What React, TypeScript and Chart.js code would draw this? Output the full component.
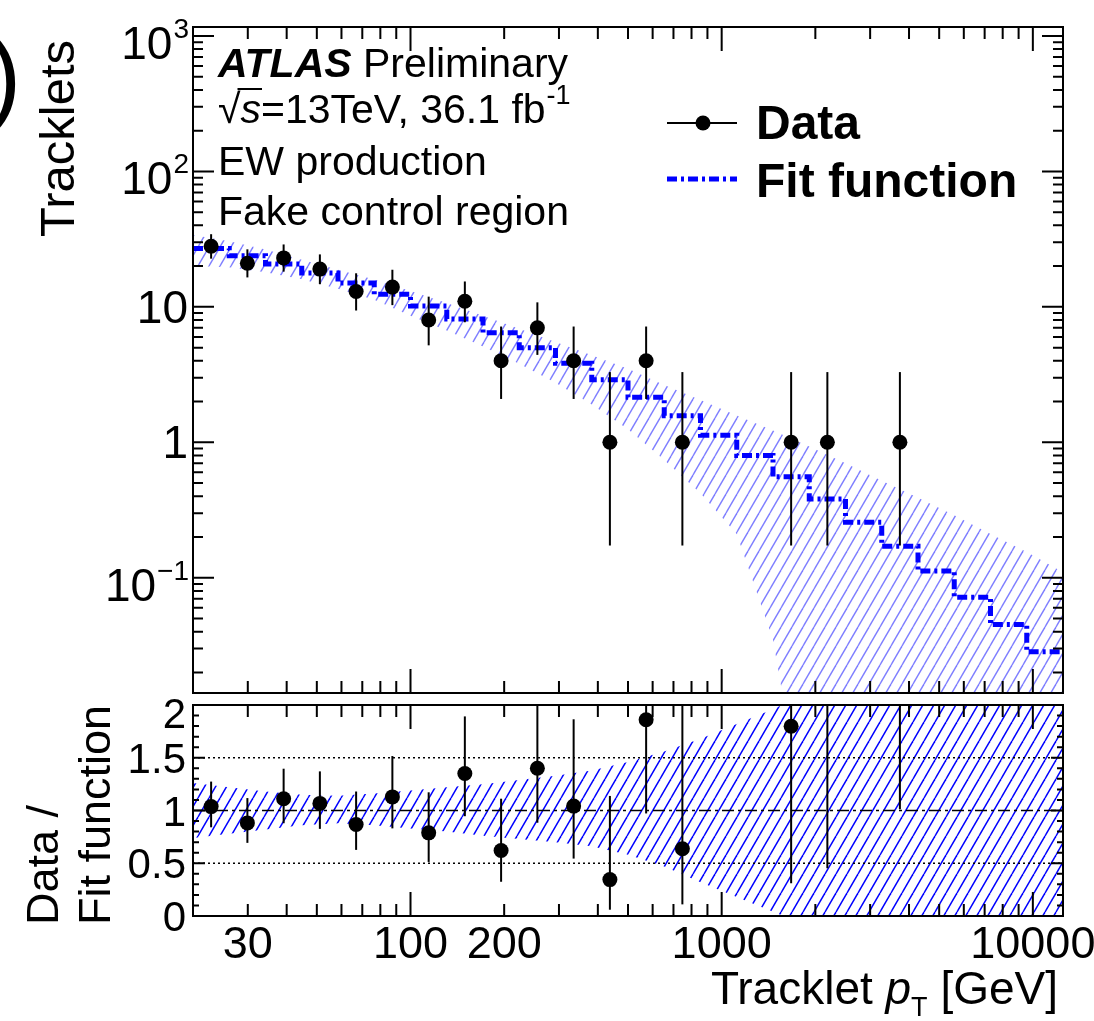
import React, { useEffect, useRef } from "react";
import { Chart, registerables } from "chart.js";

Chart.register(...registerables);

const W = 1094;
const H = 1021;
const FONT = '"Liberation Sans", Helvetica, Arial, sans-serif';

// ---------- data (GeV binning, log-spaced) ----------
const binEdges = [20, 26.15, 34.2, 44.72, 58.48, 76.47, 100, 130.8, 171.0, 223.6, 292.4, 382.4, 500, 653.8, 855.0, 1118, 1462, 1912, 2500, 3269, 4275, 5590, 7310, 9559, 12500];
const binCenters = [22.87, 29.91, 39.11, 51.14, 66.87, 87.45, 114.4, 149.5, 195.5, 255.7, 334.4, 437.3, 571.8, 747.7, 977.8, 1279, 1672, 2186, 2859, 3739, 4889, 6393, 8360, 10930];
const dataCounts = [28, 21, 23, 19, 13, 14, 8, 11, 4, 7, 4, 1, 4, 1, 0, 0, 1, 1, 0, 1, 0, 0, 0, 0];
const dataErrLow = [22.7, 16.5, 18.2, 14.7, 9.4, 10.3, 5.2, 7.7, 2.09, 4.42, 2.09, 0.173, 2.09, 0.173, 0, 0, 0.173, 0.173, 0, 0.173, 0, 0, 0, 0];
const dataErrHigh = [34.4, 26.6, 28.9, 24.4, 17.7, 18.8, 11.9, 15.4, 7.16, 10.8, 7.16, 3.3, 7.16, 3.3, 0, 0, 3.3, 3.3, 0, 3.3, 0, 0, 0, 0];
const fitValues = [27.0, 23.8, 20.7, 17.8, 15.0, 12.4, 10.15, 8.14, 6.44, 5.0, 3.84, 2.9, 2.15, 1.57, 1.13, 0.8, 0.556, 0.382, 0.257, 0.171, 0.112, 0.0718, 0.0451, 0.0284];
// fit uncertainty band, at bin edges
const fitBandUp = [34, 30.5, 26.5, 22.3, 18.8, 15.9, 13.1, 10.7, 8.6, 6.9, 5.5, 4.4, 3.5, 2.65, 2.05, 1.58, 1.22, 0.93, 0.7, 0.52, 0.39, 0.29, 0.21, 0.155, 0.11];
const fitBandLow = [20, 19.6, 18.0, 16.0, 13.6, 11.3, 8.6, 6.7, 5.1, 3.8, 2.75, 1.9, 1.25, 0.74, 0.42, 0.21, 0.035, 0.001, 0.001, 0.001, 0.001, 0.001, 0.001, 0.001, 0.001];
const ratioBandUp = [1.26, 1.22, 1.18, 1.15, 1.14, 1.16, 1.19, 1.22, 1.25, 1.29, 1.33, 1.38, 1.46, 1.56, 1.68, 1.82, 1.96, 2.12, 2.3, 2.5, 2.7, 2.9, 3.1, 3.3, 3.5];
const ratioBandLow = [0.74, 0.78, 0.82, 0.86, 0.88, 0.86, 0.83, 0.8, 0.76, 0.73, 0.7, 0.66, 0.58, 0.47, 0.32, 0.18, 0.04, -0.1, -0.3, -0.5, -0.7, -0.9, -1.1, -1.3, -1.5];

// ---------- axes / labels ----------
const xRange = [20, 12500];
const topYRange = [0.0141, 1165];
const ratioYRange = [0, 2];
const xTickLabels = [30, 100, 200, 1000, 10000];
const topYTickValues = [1000, 100, 10, 1, 0.1];
const topYTickBase = ["10", "10", "10", "1", "10"];
const topYTickExp = ["3", "2", "", "", "\u22121"];
const ratioYTickValues = [2, 1.5, 1, 0.5, 0];
const ratioYTickLabels = ["2", "1.5", "1", "0.5", "0"];
const ratioDottedLines = [0.5, 1.5];
const ratioCentralLine = 1;

const TOP_AREA = { left: 193, right: 1063, top: 27, bottom: 693 };
const BOT_AREA = { left: 193, right: 1063, top: 705, bottom: 916 };

function f(size: number, weight = "normal", style = "normal") {
  return `${style} ${weight} ${size}px ${FONT}`;
}

function makeHatch(ctx: CanvasRenderingContext2D, color: string, lw: number) {
  const w = 11, h = 19;
  const c = document.createElement("canvas");
  c.width = w;
  c.height = h;
  const g = c.getContext("2d")!;
  g.strokeStyle = color;
  g.lineWidth = lw;
  for (const dx of [-w, 0, w]) {
    g.beginPath();
    g.moveTo(dx, h);
    g.lineTo(dx + w, 0);
    g.stroke();
  }
  return ctx.createPattern(c, "repeat");
}

function drawBars(chart: any, bars: { x: number; lo: number; hi: number }[]) {
  const { ctx, chartArea: a, scales } = chart;
  ctx.save();
  ctx.beginPath();
  ctx.rect(a.left, a.top, a.right - a.left, a.bottom - a.top);
  ctx.clip();
  ctx.strokeStyle = "#000";
  ctx.lineWidth = 2;
  for (const b of bars) {
    const px = scales.x.getPixelForValue(b.x);
    ctx.beginPath();
    ctx.moveTo(px, scales.y.getPixelForValue(b.lo));
    ctx.lineTo(px, scales.y.getPixelForValue(b.hi));
    ctx.stroke();
  }
  ctx.restore();
}

function drawFrameAndXTicks(chart: any, major: number, minor: number) {
  const { ctx, chartArea: a, scales } = chart;
  const sx = scales.x;
  ctx.save();
  ctx.strokeStyle = "#000";
  ctx.lineWidth = 2;
  ctx.beginPath();
  for (let d = 1; d <= 4; d++) {
    for (let m = 1; m <= 9; m++) {
      const v = m * Math.pow(10, d);
      if (v < sx.min * 0.999 || v > sx.max * 1.001) continue;
      const px = sx.getPixelForValue(v);
      const len = m === 1 ? major : minor;
      ctx.moveTo(px, a.bottom);
      ctx.lineTo(px, a.bottom - len);
      ctx.moveTo(px, a.top);
      ctx.lineTo(px, a.top + len);
    }
  }
  ctx.stroke();
  ctx.strokeRect(a.left, a.top, a.right - a.left, a.bottom - a.top);
  ctx.restore();
}

export default function App() {
  const topRef = useRef<HTMLCanvasElement>(null);
  const botRef = useRef<HTMLCanvasElement>(null);

  useEffect(() => {
    const topCtx = topRef.current!.getContext("2d")!;
    const botCtx = botRef.current!.getContext("2d")!;

    const dataPts: { x: number; y: number }[] = [];
    const dataBars: { x: number; lo: number; hi: number }[] = [];
    const ratioPts: { x: number; y: number }[] = [];
    const ratioBars: { x: number; lo: number; hi: number }[] = [];
    dataCounts.forEach((n, i) => {
      if (n <= 0) return;
      dataPts.push({ x: binCenters[i], y: n });
      dataBars.push({ x: binCenters[i], lo: dataErrLow[i], hi: dataErrHigh[i] });
      ratioPts.push({ x: binCenters[i], y: n / fitValues[i] });
      ratioBars.push({ x: binCenters[i], lo: dataErrLow[i] / fitValues[i], hi: dataErrHigh[i] / fitValues[i] });
    });
    const stepPts = binEdges.map((e, i) => ({ x: e, y: fitValues[Math.min(i, fitValues.length - 1)] }));
    const upPts = fitBandUp.map((v, i) => ({ x: binEdges[i], y: v }));
    const lowPts = fitBandLow.map((v, i) => ({ x: binEdges[i], y: v }));
    const rUpPts = ratioBandUp.map((v, i) => ({ x: binEdges[i], y: v }));
    const rLowPts = ratioBandLow.map((v, i) => ({ x: binEdges[i], y: v }));

    const topPlugin = {
      id: "topDecor",
      beforeDatasetDraw(chart: any, args: any) {
        if (chart.data.datasets[args.index].label === "Data") drawBars(chart, dataBars);
      },
      afterDraw(chart: any) {
        const { ctx, chartArea: a, scales } = chart;
        const sy = scales.y;
        drawFrameAndXTicks(chart, 24, 12);
        ctx.save();
        ctx.strokeStyle = "#000";
        ctx.lineWidth = 2;
        ctx.beginPath();
        for (let d = -2; d <= 3; d++) {
          for (let m = 1; m <= 9; m++) {
            const v = m * Math.pow(10, d);
            if (v < sy.min * 0.999 || v > sy.max * 1.001) continue;
            const py = sy.getPixelForValue(v);
            const len = m === 1 ? 21 : 10;
            ctx.moveTo(a.left, py);
            ctx.lineTo(a.left + len, py);
            ctx.moveTo(a.right, py);
            ctx.lineTo(a.right - len, py);
          }
        }
        ctx.stroke();

        // y tick labels
        ctx.fillStyle = "#000";
        ctx.textBaseline = "alphabetic";
        ctx.textAlign = "left";
        topYTickValues.forEach((v, i) => {
          const py = sy.getPixelForValue(v);
          const base = topYTickBase[i];
          const exp = topYTickExp[i];
          ctx.font = f(46);
          const bw = ctx.measureText(base).width;
          ctx.font = f(28);
          const ew = exp ? ctx.measureText(exp).width : 0;
          const x0 = 188 - bw - ew;
          const by = py + 16 + (exp ? 7 : 0);
          ctx.font = f(46);
          ctx.fillText(base, x0, by);
          if (exp) {
            ctx.font = f(28);
            ctx.fillText(exp, x0 + bw + 1, by - 21);
          }
        });

        // y title
        ctx.save();
        ctx.translate(74, 40);
        ctx.rotate(-Math.PI / 2);
        ctx.textAlign = "right";
        ctx.font = f(49);
        ctx.fillText("Tracklets", 0, 0);
        ctx.restore();

        // cut-off panel label
        ctx.font = f(100);
        ctx.fillText(")", -12, 110);

        // ATLAS text
        let x = 218;
        ctx.font = f(41, "bold", "italic");
        ctx.fillText("ATLAS", x, 77);
        x += ctx.measureText("ATLAS").width;
        ctx.font = f(41);
        ctx.fillText(" Preliminary", x, 77);

        x = 218;
        const y1 = 123;
        ctx.font = f(41);
        ctx.fillText("\u221A", x, y1);
        x += ctx.measureText("\u221A").width;
        ctx.font = f(41, "normal", "italic");
        const sw = ctx.measureText("s").width;
        ctx.fillText("s", x, y1);
        ctx.lineWidth = 2;
        ctx.beginPath();
        ctx.moveTo(x - 3, y1 - 34);
        ctx.lineTo(x + sw + 1, y1 - 34);
        ctx.stroke();
        x += sw;
        ctx.font = f(41);
        const rest = "=13TeV, 36.1 fb";
        ctx.fillText(rest, x, y1);
        x += ctx.measureText(rest).width;
        ctx.font = f(27);
        ctx.fillText("-1", x + 1, y1 - 19);

        ctx.font = f(41);
        ctx.fillText("EW production", 218, 175);
        ctx.fillText("Fake control region", 218, 225);

        // legend
        ctx.lineWidth = 2;
        ctx.strokeStyle = "#000";
        ctx.beginPath();
        ctx.moveTo(667, 123);
        ctx.lineTo(737, 123);
        ctx.stroke();
        ctx.beginPath();
        ctx.arc(703, 123, 7.5, 0, Math.PI * 2);
        ctx.fill();
        ctx.strokeStyle = "#0000ff";
        ctx.lineWidth = 5;
        ctx.setLineDash([10, 4, 3, 4]);
        ctx.beginPath();
        ctx.moveTo(667, 179);
        ctx.lineTo(737, 179);
        ctx.stroke();
        ctx.setLineDash([]);
        ctx.fillStyle = "#000";
        ctx.font = f(48, "bold");
        ctx.fillText("Data", 756, 139);
        ctx.fillText("Fit function", 756, 197);
        ctx.restore();
      },
    };

    const botPlugin = {
      id: "botDecor",
      beforeDatasetDraw(chart: any, args: any) {
        if (chart.data.datasets[args.index].label !== "Data") return;
        const { ctx, chartArea: a, scales } = chart;
        ctx.save();
        ctx.strokeStyle = "#000";
        ctx.lineWidth = 1.5;
        ctx.setLineDash([2, 3]);
        for (const v of ratioDottedLines) {
          const py = scales.y.getPixelForValue(v);
          ctx.beginPath();
          ctx.moveTo(a.left, py);
          ctx.lineTo(a.right, py);
          ctx.stroke();
        }
        ctx.setLineDash([12, 4, 3, 4]);
        const pc = scales.y.getPixelForValue(ratioCentralLine);
        ctx.beginPath();
        ctx.moveTo(a.left, pc);
        ctx.lineTo(a.right, pc);
        ctx.stroke();
        ctx.restore();
        drawBars(chart, ratioBars);
      },
      afterDraw(chart: any) {
        const { ctx, chartArea: a, scales } = chart;
        const sy = scales.y;
        const sx = scales.x;
        drawFrameAndXTicks(chart, 24, 12);
        ctx.save();
        ctx.strokeStyle = "#000";
        ctx.lineWidth = 2;
        ctx.beginPath();
        for (let k = 0; k <= 20; k++) {
          const v = k * 0.1;
          const py = sy.getPixelForValue(v);
          const len = k % 5 === 0 ? 12 : 6;
          ctx.moveTo(a.left, py);
          ctx.lineTo(a.left + len, py);
          ctx.moveTo(a.right, py);
          ctx.lineTo(a.right - len, py);
        }
        ctx.stroke();

        ctx.fillStyle = "#000";
        ctx.font = f(42);
        ctx.textAlign = "right";
        ratioYTickValues.forEach((v, i) => {
          let py = sy.getPixelForValue(v) + 15;
          if (v === ratioYRange[1]) py += 8;
          ctx.fillText(ratioYTickLabels[i], 186, py);
        });

        ctx.textAlign = "center";
        ctx.font = f(45);
        xTickLabels.forEach((v) => {
          ctx.fillText(String(v), sx.getPixelForValue(v), 958);
        });

        // x title: Tracklet p_T [GeV]
        ctx.textAlign = "left";
        const parts = [
          { t: "Tracklet ", font: f(46), dy: 0 },
          { t: "p", font: f(46, "normal", "italic"), dy: 0 },
          { t: "T", font: f(27), dy: 12 },
          { t: " [GeV]", font: f(46), dy: 0 },
        ];
        let total = 0;
        for (const p of parts) {
          ctx.font = p.font;
          total += ctx.measureText(p.t).width;
        }
        let x = 1058 - total;
        for (const p of parts) {
          ctx.font = p.font;
          ctx.fillText(p.t, x, 1004 + p.dy);
          x += ctx.measureText(p.t).width;
        }

        // ratio y title
        ctx.save();
        ctx.translate(58, 925);
        ctx.rotate(-Math.PI / 2);
        ctx.textAlign = "left";
        ctx.font = f(45);
        ctx.fillText("Data /", 0, 0);
        ctx.restore();
        ctx.save();
        ctx.translate(110, 925);
        ctx.rotate(-Math.PI / 2);
        ctx.textAlign = "left";
        ctx.font = f(45);
        ctx.fillText("Fit function", 0, 0);
        ctx.restore();
        ctx.restore();
      },
    };

    const commonOpts = (area: any, yType: string, yRange: number[]) => ({
      responsive: false,
      animation: false as const,
      events: [],
      layout: {
        autoPadding: false,
        padding: { left: area.left, right: W - area.right, top: area.top, bottom: H - area.bottom },
      },
      plugins: { legend: { display: false }, tooltip: { enabled: false } },
      scales: {
        x: { type: "logarithmic", min: xRange[0], max: xRange[1], display: false },
        y: { type: yType, min: yRange[0], max: yRange[1], display: false },
      },
    });

    const topChart = new Chart(topCtx, {
      type: "scatter",
      data: {
        datasets: [
          { label: "Data", type: "scatter", data: dataPts, pointRadius: 7.5, pointBackgroundColor: "#000", pointBorderWidth: 0, order: 0 },
          {
            label: "Fit function", type: "line", data: stepPts, stepped: true, borderColor: "#0000ff", borderWidth: 5,
            borderDash: [10, 4, 3, 4], pointRadius: 0, fill: false, order: 1,
          },
          {
            label: "BandUp", type: "line", data: upPts, borderColor: "rgba(0,0,0,0)", borderWidth: 1, pointRadius: 0,
            fill: "+1", backgroundColor: makeHatch(topCtx, "rgba(40,40,255,0.6)", 1.4), order: 2,
          },
          { label: "BandLow", type: "line", data: lowPts, borderColor: "rgba(0,0,0,0)", borderWidth: 1, pointRadius: 0, fill: false, order: 3 },
        ],
      } as any,
      options: commonOpts(TOP_AREA, "logarithmic", topYRange) as any,
      plugins: [topPlugin],
    });

    const botChart = new Chart(botCtx, {
      type: "scatter",
      data: {
        datasets: [
          { label: "Data", type: "scatter", data: ratioPts, pointRadius: 7.5, pointBackgroundColor: "#000", pointBorderWidth: 0, order: 0, clip: 0 },
          {
            label: "RatioUp", type: "line", data: rUpPts, borderColor: "rgba(0,0,0,0)", borderWidth: 1, pointRadius: 0,
            fill: "+1", backgroundColor: makeHatch(botCtx, "#0000ff", 1.5), order: 2,
          },
          { label: "RatioLow", type: "line", data: rLowPts, borderColor: "rgba(0,0,0,0)", borderWidth: 1, pointRadius: 0, fill: false, order: 3 },
        ],
      } as any,
      options: commonOpts(BOT_AREA, "linear", ratioYRange) as any,
      plugins: [botPlugin],
    });

    return () => {
      topChart.destroy();
      botChart.destroy();
    };
  }, []);

  return (
    <div style={{ position: "absolute", left: 0, top: 0, width: W, height: H, background: "#fff", overflow: "hidden" }}>
      <canvas ref={topRef} width={W} height={H} style={{ position: "absolute", left: 0, top: 0 }} />
      <canvas ref={botRef} width={W} height={H} style={{ position: "absolute", left: 0, top: 0 }} />
    </div>
  );
}
